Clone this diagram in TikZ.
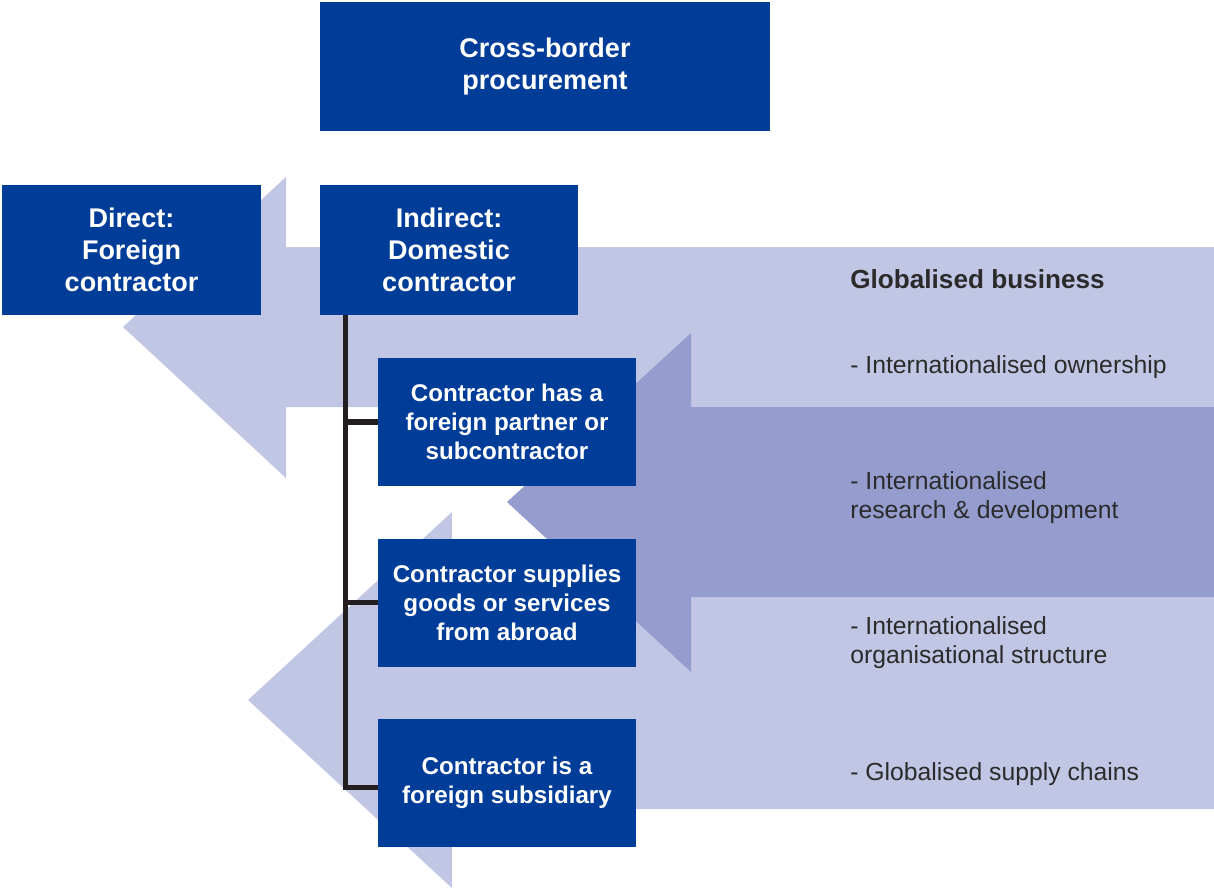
\documentclass[tikz,border=0pt]{standalone}
\usepackage{fontspec}
\setmainfont{Liberation Sans}
\usetikzlibrary{positioning}
\definecolor{boxblue}{RGB}{0,61,153}
\definecolor{lightarrow}{RGB}{194,198,229}
\definecolor{darkarrow}{RGB}{148,157,206}
\definecolor{textgrey}{RGB}{43,43,43}
\definecolor{treeline}{RGB}{35,31,32}

\begin{document}
\begin{tikzpicture}[x=0.025cm,y=-0.025cm,node distance=1.3cm,
        box/.style={fill=boxblue,text=white,align=center,inner sep=0pt,
            font=\fontsize{19.2}{23}\selectfont\bfseries,
            minimum width=6.45cm,minimum height=3.24cm},
        subbox/.style={box,font=\fontsize{17.2}{20.6}\selectfont\bfseries,minimum height=3.2cm},
        item/.style={anchor=west,inner sep=0pt,align=left,text=textgrey,
            font=\fontsize{17.6}{20.6}\selectfont},
        tree/.style={draw=treeline,line width=3.8pt}]
        \useasboundingbox (0,0) rectangle (1214,893);
        \fill[lightarrow] (1214,247) -- (286,247) -- (286,177) -- (123,327) -- (286,478) -- (286,407) -- (1214,407) -- cycle;
        \fill[lightarrow] (1214,597) -- (452,597) -- (452,512) -- (248,700) -- (452,888) -- (452,809) -- (1214,809) -- cycle;
        \fill[darkarrow] (1214,407) -- (691,407) -- (691,333) -- (507,502) -- (691,672) -- (691,597) -- (1214,597) -- cycle;
        \node(C0) [box,minimum width=11.25cm] at (545,66.5) {Cross-border\\procurement};
        \node(D1) [box] at (131.5,250) {Direct:\\Foreign\\contractor};
        \node(I1) [box] at (449,250) {Indirect:\\Domestic\\contractor};
        \node(I2) [subbox] at (507,422) {Contractor has a\\foreign partner or\\subcontractor};
        \node(I3) [subbox,below=of I2] {Contractor supplies\\goods or services\\from abroad};
        \node(I4) [subbox,below=of I3] {Contractor is a\\foreign subsidiary};
        \coordinate(T0) at ([xshift=0.65cm]I1.south west);
        \draw[tree] (T0) |- (I2.west);
        \draw[tree] (T0) |- (I3.west);
        \draw[tree] (T0) |- ([yshift=-0.1cm]I4.west);
        \node(G0) [item,font=\fontsize{18.6}{22}\selectfont\bfseries] at (850,279) {Globalised business};
        \node(G1) [item] at (850,367) {- Internationalised ownership};
        \node(G2) [item] at (850,498) {- Internationalised\\research \& development};
        \node(G3) [item] at (850,643) {- Internationalised\\organisational structure};
        \node(G4) [item] at (850,774) {- Globalised supply chains};
    \end{tikzpicture}
\end{document}
